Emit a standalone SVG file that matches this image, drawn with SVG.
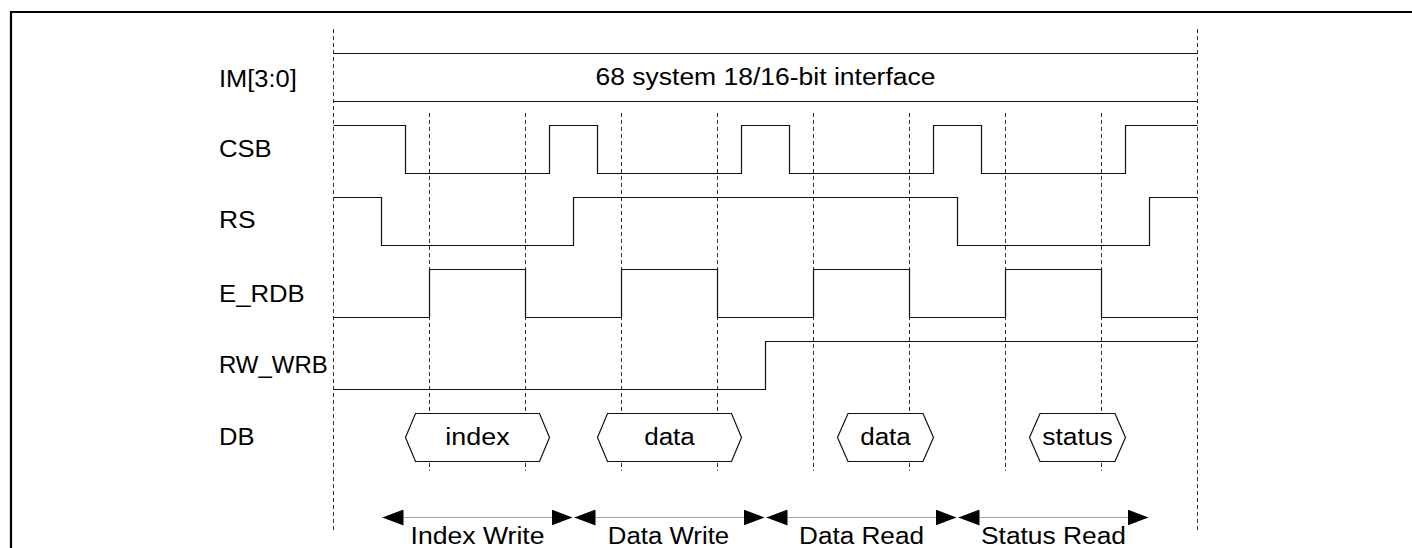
<svg xmlns="http://www.w3.org/2000/svg" width="1412" height="548" viewBox="0 0 1412 548">
  <style>
    .lbl { font-family: "Liberation Sans", Arial, sans-serif; font-size: 23px; fill: #000; }
    .mid { text-anchor: middle; }
    .wave { fill: none; stroke: #111; stroke-width: 1.2; }
    .grid { fill: none; stroke: #333; stroke-width: 1; stroke-dasharray: 4 3; }
    .hex { fill: #fff; stroke: #111; stroke-width: 1.2; }
    .span { stroke: #444; stroke-width: 1; stroke-dasharray: 1 1; marker-start: url(#ah); marker-end: url(#ah); }
  </style>
  <defs>
    <marker id="ah" viewBox="0 0 21 16" refX="21" refY="8" markerWidth="21" markerHeight="16" markerUnits="userSpaceOnUse" orient="auto-start-reverse">
      <path d="M0,0 L21,8 L0,16 Z" fill="#000"/>
    </marker>
  </defs>
  <rect x="0" y="0" width="1412" height="548" fill="#fff"/>
  <g id="border">
    <path d="M11,560 V12 H1420" fill="none" stroke="#000" stroke-width="2.2"/>
  </g>
  <g id="gridlines">
    <line class="grid" x1="333.5" y1="29" x2="333.5" y2="531"/>
    <line class="grid" x1="1197.5" y1="29" x2="1197.5" y2="531"/>
    <line class="grid" x1="429.5" y1="113" x2="429.5" y2="471"/>
    <line class="grid" x1="525.5" y1="113" x2="525.5" y2="471"/>
    <line class="grid" x1="621.5" y1="113" x2="621.5" y2="471"/>
    <line class="grid" x1="717.5" y1="113" x2="717.5" y2="471"/>
    <line class="grid" x1="813.5" y1="113" x2="813.5" y2="471"/>
    <line class="grid" x1="909.5" y1="113" x2="909.5" y2="471"/>
    <line class="grid" x1="1005.5" y1="113" x2="1005.5" y2="471"/>
    <line class="grid" x1="1101.5" y1="113" x2="1101.5" y2="471"/>
  </g>
  <g id="sig-im">
    <text class="lbl" x="219" y="87" textLength="77.7" lengthAdjust="spacingAndGlyphs">IM[3:0]</text>
    <line class="wave" x1="333.5" y1="53.5" x2="1197.5" y2="53.5"/>
    <line class="wave" x1="333.5" y1="101.5" x2="1197.5" y2="101.5"/>
    <text class="lbl mid" x="765.5" y="85" textLength="340" lengthAdjust="spacingAndGlyphs">68 system 18/16-bit interface</text>
  </g>
  <g id="sig-csb">
    <text class="lbl" x="219" y="157" textLength="52.7" lengthAdjust="spacingAndGlyphs">CSB</text>
    <path class="wave" d="M333.5,125.5 H405.5 V173.5 H549.5 V125.5 H597.5 V173.5 H741.5 V125.5 H789.5 V173.5 H933.5 V125.5 H981.5 V173.5 H1125.5 V125.5 H1197.5"/>
  </g>
  <g id="sig-rs">
    <text class="lbl" x="219" y="228" textLength="36.7" lengthAdjust="spacingAndGlyphs">RS</text>
    <path class="wave" d="M333.5,197.5 H381.5 V245.5 H573.5 V197.5 H957.5 V245.5 H1149.5 V197.5 H1197.5"/>
  </g>
  <g id="sig-erdb">
    <text class="lbl" x="219" y="301.5" textLength="85.7" lengthAdjust="spacingAndGlyphs">E_RDB</text>
    <path class="wave" d="M333.5,317.5 H429.5 V269.5 H525.5 V317.5 H621.5 V269.5 H717.5 V317.5 H813.5 V269.5 H909.5 V317.5 H1005.5 V269.5 H1101.5 V317.5 H1197.5"/>
  </g>
  <g id="sig-rwwrb">
    <text class="lbl" x="219" y="373" textLength="108.7" lengthAdjust="spacingAndGlyphs">RW_WRB</text>
    <path class="wave" d="M333.5,389.5 H765.5 V341.5 H1197.5"/>
  </g>
  <g id="sig-db">
    <text class="lbl" x="219" y="445" textLength="35.5" lengthAdjust="spacingAndGlyphs">DB</text>
  </g>
  <g id="db-index">
    <polygon class="hex" points="405.5,437.5 415.5,413.5 539.5,413.5 549.5,437.5 539.5,461.5 415.5,461.5"/>
    <text class="lbl mid" x="477.5" y="445" textLength="64.3" lengthAdjust="spacingAndGlyphs">index</text>
  </g>
  <g id="db-data-write">
    <polygon class="hex" points="597.5,437.5 607.5,413.5 731.5,413.5 741.5,437.5 731.5,461.5 607.5,461.5"/>
    <text class="lbl mid" x="669.5" y="445" textLength="50.7" lengthAdjust="spacingAndGlyphs">data</text>
  </g>
  <g id="db-data-read">
    <polygon class="hex" points="837.5,437.5 848,413.5 923,413.5 933.5,437.5 923,461.5 848,461.5"/>
    <text class="lbl mid" x="885.5" y="445" textLength="50.7" lengthAdjust="spacingAndGlyphs">data</text>
  </g>
  <g id="db-status">
    <polygon class="hex" points="1029.5,437.5 1040,413.5 1115,413.5 1125.5,437.5 1115,461.5 1040,461.5"/>
    <text class="lbl mid" x="1077.5" y="445" textLength="70.7" lengthAdjust="spacingAndGlyphs">status</text>
  </g>
  <g id="connectors">
    <line class="span" x1="382.5" y1="517.5" x2="572.5" y2="517.5"/>
    <line class="span" x1="574.5" y1="517.5" x2="764.5" y2="517.5"/>
    <line class="span" x1="766.5" y1="517.5" x2="956.5" y2="517.5"/>
    <line class="span" x1="958.5" y1="517.5" x2="1148.5" y2="517.5"/>
  </g>
  <g id="phase-labels">
    <text class="lbl mid" x="477.5" y="544" textLength="134" lengthAdjust="spacingAndGlyphs">Index Write</text>
    <text class="lbl mid" x="668.5" y="544" textLength="121.4" lengthAdjust="spacingAndGlyphs">Data Write</text>
    <text class="lbl mid" x="861.5" y="544" textLength="125" lengthAdjust="spacingAndGlyphs">Data Read</text>
    <text class="lbl mid" x="1053.5" y="544" textLength="145" lengthAdjust="spacingAndGlyphs">Status Read</text>
  </g>
</svg>
